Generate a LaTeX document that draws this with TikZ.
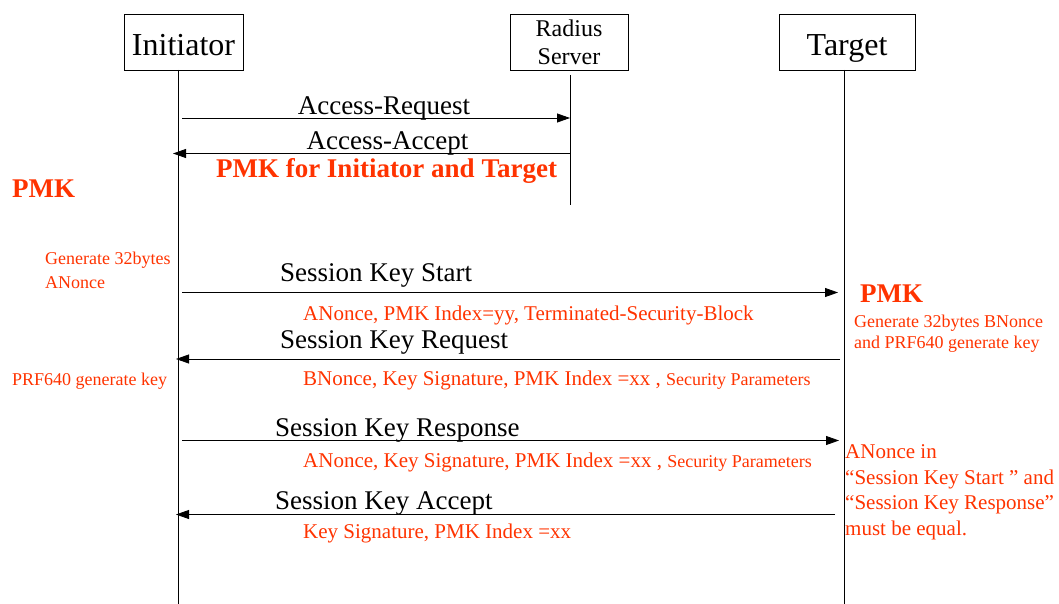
\documentclass[tikz,border=0pt]{standalone}
\usepackage{fontspec}
\setmainfont{Liberation Serif}
\usetikzlibrary{arrows.meta}
\definecolor{pmkred}{RGB}{255,51,0}

\begin{document}
\begin{tikzpicture}[
x=1pt, y=-1pt,
entity/.style={
draw,
line width=0.8pt,
minimum height=56pt,
inner sep=0pt,
align=center,
},
lifeline/.style={line width=0.8pt},
msg/.style={line width=0.8pt, arrows={-Triangle[length=13pt, width=9pt]}},
msglabel/.style={inner sep=0pt, font=\fontsize{27}{30}\selectfont},
param/.style={anchor=base west, inner sep=0pt, text=pmkred, font=\fontsize{21}{25}\selectfont},
small/.style={inner sep=0pt, text=pmkred, align=left, font=\fontsize{18}{21}\selectfont},
pmk/.style={anchor=base west, inner sep=0pt, text=pmkred, font=\bfseries\fontsize{27}{30}\selectfont},
]
\useasboundingbox (0,0) rectangle (1059,604);

% entities
\node [entity, minimum width=119pt, text height=28pt, text depth=0pt, font=\fontsize{32}{34}\selectfont] at (183.5,42) (ini) {Initiator};
\node [entity, minimum width=118pt, font=\fontsize{24}{28}\selectfont] at (569,42) (rad) {Radius\\Server};
\node [entity, minimum width=136pt, text height=28pt, text depth=0pt, font=\fontsize{32}{34}\selectfont] at (847,42) (tgt) {Target};

% lifelines
\coordinate (iniT) at (178,70);
\coordinate (iniB) at (178,604);
\coordinate (radT) at (570,75);
\coordinate (radB) at (570,205);
\coordinate (tgtT) at (844,70);
\coordinate (tgtB) at (844,604);
\draw[lifeline]
(iniT) -- (iniB)
(radT) -- (radB)
(tgtT) -- (tgtB)
;

% message rows
\coordinate (accreq) at (0,118);
\coordinate (accacc) at (0,153.5);
\coordinate (skstart) at (0,292.5);
\coordinate (skreq) at (0,359);
\coordinate (skresp) at (0,440.5);
\coordinate (skacc) at (0,514.5);

% radius exchange
\draw [msg, shorten <=4pt] (iniT |- accreq) -- (radT |- accreq);
\draw [msg, shorten >=-5pt] (radT |- accacc) -- (iniT |- accacc);
\path
(384,115) node[msglabel, anchor=base] (accreqL) {Access-Request}
(387.5,150) node[msglabel, anchor=base] (accaccL) {Access-Accept}
(386.5,178) node[pmk, anchor=base] (pmkboth) {PMK for Initiator and Target}
(12,197) node[pmk] (pmkini) {PMK}
;

% session key handshake
\draw [msg, shorten <=4pt, shorten >=6pt] (iniT |- skstart) -- (tgtT |- skstart);
\draw [msg, shorten <=4pt, shorten >=-2pt] (tgtT |- skreq) -- (iniT |- skreq);
\draw [msg, shorten <=4pt, shorten >=5pt] (iniT |- skresp) -- (tgtT |- skresp);
\draw [msg, shorten <=9pt, shorten >=-2pt] (tgtT |- skacc) -- (iniT |- skacc);
\path
(280,281) node[msglabel, anchor=base west] (skstartL) {Session Key Start}
(280,348) node[msglabel, anchor=base west] (skreqL) {Session Key Request}
(275,436) node[msglabel, anchor=base west] (skrespL) {Session Key Response}
(275,509) node[msglabel, anchor=base west] (skaccL) {Session Key Accept}
;

% message parameters
\path
(303,320) node[param] (skstartP) {ANonce, PMK Index=yy, Terminated-Security-Block}
(303,385) node[param] (skreqP) {BNonce, Key Signature, PMK Index =xx , {\fontsize{18}{21}\selectfont Security Parameters}}
(303,467) node[param] (skrespP) {ANonce, Key Signature, PMK Index =xx , {\fontsize{18}{21}\selectfont Security Parameters}}
(303,538) node[param] (skaccP) {Key Signature, PMK Index =xx}
;

% side notes
\node [small, anchor=north west, font=\fontsize{18}{24}\selectfont] at (45,251.5) (anonce) {Generate 32bytes\\ANonce};
\node [small, anchor=base west] at (12,385) (prfini) {PRF640 generate key};
\node [pmk] at (860,302) (pmktgt) {PMK};
\node [small, anchor=north west] at (854,314.5) (bnonce) {Generate 32bytes BNonce\\and PRF640 generate key};
\node [small, anchor=north west, font=\fontsize{21}{25.5}\selectfont] at (845,444.5) (equal)
{ANonce in\\“Session Key Start ” and\\“Session Key Response”\\must be equal.};

\end{tikzpicture}
\end{document}
